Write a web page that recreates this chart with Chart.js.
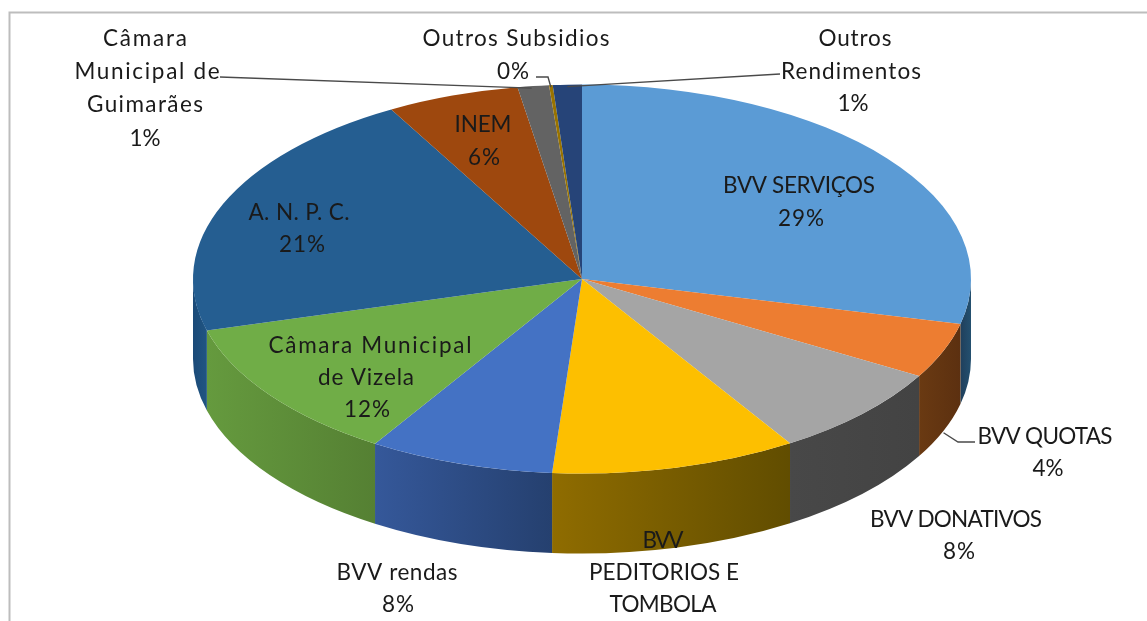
<!DOCTYPE html>
<html lang="pt">
<head>
<meta charset="utf-8">
<style>html,body{margin:0;padding:0;background:#fff}canvas{display:block;filter:blur(0.4px)}</style>
<script src="https://cdn.jsdelivr.net/npm/chart.js@4"></script>
</head>
<body>
<canvas id="c" width="1147" height="621"></canvas>
<script>
const categories = ["BVV SERVIÇOS","BVV QUOTAS","BVV DONATIVOS","BVV PEDITORIOS E TOMBOLA","BVV rendas","Câmara Municipal de Vizela","A. N. P. C.","INEM","Câmara Municipal de Guimarães","Outros Subsidios","Outros Rendimentos"];
const shares = [28.7,4.6,7.7,10.2,7.7,11.8,21.1,5.5,1.3,0.15,1.2];
const topColors = ["#5b9bd5","#ed7d31","#a5a5a5","#fdbf00","#4472c4","#70ad47","#255e91","#9e480e","#636363","#997300","#264478"];
const wallLeft  = ["#1f3f5c","#6a3a12","#484848","#8f6c00","#35589a","#659a3e","#1b4a78","#6b310a","#444444","#675000","#1c3258"];
const wallRight = ["#24506f","#5c3010","#434343","#614d00","#25406f","#558033","#205582","#6b310a","#444444","#675000","#1c3258"];

// text blocks: [line, centre x, centre y, width]
const textLines = [
 ["Câmara",145,38,84],["Municipal de",147,71,145],["Guimarães",145,104,116],["1%",145,138,31],
 ["Outros Subsidios",516,38,187],["0%",513,71,32],
 ["Outros",855,38,73],["Rendimentos",851,71,140],["1%",853,103,31],
 ["BVV SERVIÇOS",799,185,152],["29%",801,218,46],
 ["BVV QUOTAS",1045,436,135],["4%",1048,468,31],
 ["BVV DONATIVOS",956,519,172],["8%",959,551,32],
 ["BVV",663,540,41],["PEDITORIOS E",664,572,150],["TOMBOLA",663,604,107],
 ["BVV rendas",397,572,121],["8%",398,604,32],
 ["Câmara Municipal",370,345,203],["de Vizela",366,377,96],["12%",367,409,46],
 ["A. N. P. C.",299,212,101],["21%",302,244,46],
 ["INEM",483,124,57],["6%",484,157,32]
];
// leaders: slice index, fraction along slice, on lower rim?, path start points
const leaders = [
 {i:8,f:0.45,low:false,pts:[[220,77]]},
 {i:9,f:0.5,low:false,pts:[[536,77],[548,77]]},
 {i:10,f:0.5,low:false,pts:[[780,74]]},
 {i:1,f:0.5,low:true,pts:[[975,442],[958,442]]}
];
const SQUASH = 0.5, DEPTH = 80;

const pie3d = {
  id:'pie3d',
  beforeDraw(chart){
    const c = chart.ctx;
    c.save();
    c.fillStyle='#fff';c.fillRect(0,0,chart.width,chart.height);
    c.strokeStyle='#bdbdbd';c.lineWidth=2;
    c.beginPath();c.moveTo(9.5,chart.height);c.lineTo(9.5,12.5);c.lineTo(chart.width,12.5);c.stroke();
    c.restore();
  },
  beforeDatasetDraw(chart){
    const c = chart.ctx;
    const arcs = chart.getDatasetMeta(0).data;
    const {x:cx,y:cy,outerRadius:r} = arcs[0];
    const ry = r*SQUASH;
    arcs.forEach((a,i)=>{
      const s = Math.max(norm(a.startAngle),0), e = Math.min(norm(a.endAngle),Math.PI);
      if (norm(a.startAngle)>=Math.PI || e<=s) return;
      const x1 = cx+r*Math.cos(s), x2 = cx+r*Math.cos(e);
      const g = c.createLinearGradient(Math.min(x1,x2),0,Math.max(x1,x2),0);
      g.addColorStop(0,wallLeft[i]);g.addColorStop(1,wallRight[i]);
      c.beginPath();
      c.ellipse(cx,cy,r,ry,0,s,e,false);
      c.ellipse(cx,cy+DEPTH,r,ry,0,e,s,true);
      c.closePath();
      c.fillStyle=g;c.fill();
    });
    c.save();
    c.translate(0,cy);c.scale(1,SQUASH);c.translate(0,-cy);
  },
  afterDatasetDraw(chart){
    const c = chart.ctx;
    c.restore();
    const arcs = chart.getDatasetMeta(0).data;
    const {x:cx,y:cy,outerRadius:r} = arcs[0];
    c.save();
    c.strokeStyle='#4a4a4a';c.lineWidth=1.4;
    leaders.forEach(l=>{
      const a = arcs[l.i];
      const t = a.startAngle+(a.endAngle-a.startAngle)*l.f;
      c.beginPath();
      l.pts.forEach((p,k)=>k?c.lineTo(p[0],p[1]):c.moveTo(p[0],p[1]));
      c.lineTo(cx+r*Math.cos(t),cy+r*SQUASH*Math.sin(t)+(l.low?DEPTH:0)+2);
      c.stroke();
    });
    c.fillStyle='#1a1a1a';
    c.font='22.5px Lato';c.textAlign='left';c.textBaseline='middle';
    textLines.forEach(([s,x,y,w])=>{
      c.letterSpacing='0px';
      const m = c.measureText(s).width;
      const sp = s.length>1?(w-m)/(s.length-1):0;
      c.letterSpacing=sp.toFixed(2)+'px';
      c.fillText(s,x-w/2,y+1);
    });
    c.restore();
  }
};
function norm(a){return a<-Math.PI/2-1e-6?a+2*Math.PI:a}

new Chart(document.getElementById('c'),{
  type:'pie',
  data:{labels:categories,datasets:[{data:shares,backgroundColor:topColors,borderWidth:0,clip:false}]},
  options:{
    responsive:false,animation:false,radius:389,
    layout:{padding:{left:17,right:0,top:0,bottom:63}},
    plugins:{legend:{display:false},tooltip:{enabled:false}}
  },
  plugins:[pie3d]
});
</script>
</body>
</html>
